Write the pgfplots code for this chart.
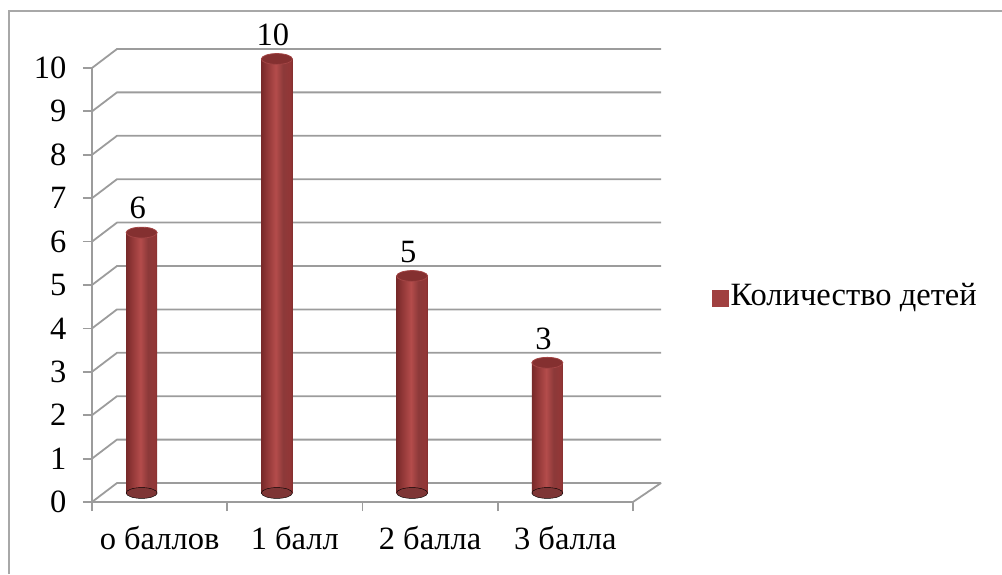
\documentclass[border=0pt]{standalone}
\usepackage{pgfplots}
\usepackage{pgfplotstable}
\pgfplotsset{compat=1.18}
\usepackage{fontspec}
\setmainfont{Liberation Serif}

\definecolor{gridgray}{HTML}{9C9C9C}
\definecolor{framegray}{HTML}{A8A8A8}
\definecolor{barmid}{HTML}{B44C4B}
\definecolor{baredge}{HTML}{6A2222}
\definecolor{bartop}{HTML}{843030}
\definecolor{legred}{HTML}{A04040}

\pgfdeclarehorizontalshading{cyl}{100bp}{color(0bp)=(baredge); color(20bp)=(baredge);
    color(34bp)=(rgb:red,0.58;green,0.22;blue,0.22); color(48bp)=(barmid);
    color(60bp)=(rgb:red,0.66;green,0.27;blue,0.27); color(72bp)=(rgb:red,0.54;green,0.2;blue,0.2);
    color(80bp)=(baredge); color(100bp)=(baredge)}

\pgfplotstableread{
x   y  b
0.5 6  0
1.5 10 0
2.5 5  0
3.5 3  0
}\kids

\newcommand{\bigfont}{\fontsize{32.5}{35}\selectfont}

\begin{document}
\begin{tikzpicture}
\begin{axis}[
    at={(92pt,72pt)}, anchor=south west,
    scale only axis, width=541pt, height=434pt,
    xmin=0, xmax=4, ymin=0, ymax=10,
    axis x line=bottom, axis y line=left,
    axis line style={gridgray, line width=1.8pt, -},
    xtick={0,1,2,3,4}, xticklabels={},
    extra x ticks={0.5,1.5,2.5,3.5},
    extra x tick labels={о баллов, 1 балл, 2 балла, 3 балла},
    extra x tick style={major tick length=0pt,
        tick label style={yshift=-21pt}},
    ytick={0,...,10},
    yticklabel style={xshift=-13pt},
    tick style={gridgray, line width=1.8pt},
    major tick length=9pt, tick align=outside,
    tick label style={font=\bigfont},
    /pgf/number format/assume math mode=true,
    legend style={at={(1.146,0.477)}, anchor=west, draw=none,
        fill=none, inner sep=0pt, font=\bigfont,
        legend cell align=left},
    cyl/.style={ybar, bar width=31pt, draw=none, shade, shading=cyl,
        xshift=-18pt, yshift=9pt, forget plot},
    clip=false,
]
% pseudo-3D walls
\pgfplotsinvokeforeach{0,...,10}{
    \draw[gridgray, line width=1.8pt] (axis cs:0,#1) -- ++(25pt,19pt) -- ++(544pt,0pt);
}
\draw[gridgray, line width=1.8pt] (axis cs:4,0) -- ++(28pt,19pt);

% bottoms of the cylinders
\addplot[only marks, mark=*, xshift=-18pt, yshift=9pt,
    mark size=15.5pt, mark options={yscale=0.35, draw=none, fill=barmid!70!black},
    forget plot] table[x=x, y=b] {\kids};
% cylinder bodies, one path each so that each gets its own shading
\addplot[cyl] coordinates {(0.5,6)};
\addplot[cyl] coordinates {(1.5,10)};
\addplot[cyl] coordinates {(2.5,5)};
\addplot[cyl] coordinates {(3.5,3)};
% tops of the cylinders and the values
\addplot[only marks, mark=*, xshift=-18pt, yshift=9pt,
    mark size=15.5pt, mark options={yscale=0.35, fill=bartop, draw=barmid!90!black, line width=0.8pt},
    nodes near coords, nodes near coords style={font=\bigfont, text=black},
    every node near coord/.append style={anchor=south, inner sep=0pt, yshift=13pt, xshift=-4pt},
    forget plot] table[x=x, y=y] {\kids};
\addlegendimage{legend image code/.code={\fill[legred] (0pt,-11pt) rectangle (16pt,5pt);}}
\addlegendentry{Количество детей}
\end{axis}
\draw[framegray, line width=1.5pt] (9pt,0pt) -- (9pt,563pt) -- (1002pt,563pt);
\pgfresetboundingbox
\path (0pt,0pt) rectangle (1002pt,574pt);
\end{tikzpicture}
\end{document}
